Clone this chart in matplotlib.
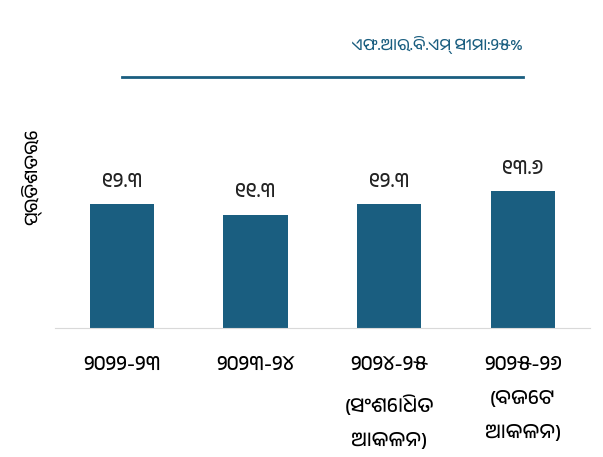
import matplotlib
matplotlib.use('Agg')
import matplotlib.pyplot as plt
from matplotlib import font_manager

# years (odia digits) and fiscal deficit values
years = ['୨୦୨୨-୨୩', '୨୦୨୩-୨୪', '୨୦୨୪-୨୫\n(ସଂଶୋଧିତ\nଆକଳନ)', '୨୦୨୫-୨୬\n(ବଜେଟ\nଆକଳନ)']
values = [12.3, 11.3, 12.3, 13.6]
value_labels = ['୧୨.୩', '୧୧.୩', '୧୨.୩', '୧୩.୬']
limit = [25, 25, 25, 25]
limit_label = 'ଏଫ.ଆର.ବି.ଏମ୍ ସୀମା:୨୫%'
ylabel = 'ପ୍ରତିଶତରେ'

# pick an odia font if one is around
odia = [f.name for f in font_manager.fontManager.ttflist
        if 'oriya' in f.name.lower() or 'odia' in f.name.lower()]
plt.rcParams['font.family'] = odia[:1] + ['DejaVu Sans']
plt.rcParams['font.weight'] = 'normal'

col = '#1a5e80'

fig = plt.figure(figsize=(6.03, 4.57), dpi=100)
ax = fig.add_axes([0.091, 0.282, 0.887, 0.66])

x = range(len(years))
ax.bar(x, values, width=0.48, color=col)
ax.plot(x, limit, color=col, lw=2)
for i, v in enumerate(values):
    ax.text(i, v + 1.4, value_labels[i], ha='center', va='bottom', fontsize=14.5,
            color='#222222')
ax.text(3, limit[3] + 2.3, limit_label, ha='right', va='bottom', fontsize=11.5,
        color=col)

ax.set_xlim(-0.5, 3.5)
ax.set_ylim(0, 30)
ax.set_xticks(list(x))
ax.set_xticklabels(years, fontsize=14.5, linespacing=2.2)
ax.tick_params(axis='x', length=0, pad=21)
ax.set_yticks([])
ax.set_ylabel(ylabel, fontsize=13)
ax.yaxis.set_label_coords(-0.025, 0.5)
for s in ['top', 'right', 'left']:
    ax.spines[s].set_visible(False)
ax.spines['bottom'].set_color('#d9d9d9')

fig.savefig('out.png', dpi=100)
